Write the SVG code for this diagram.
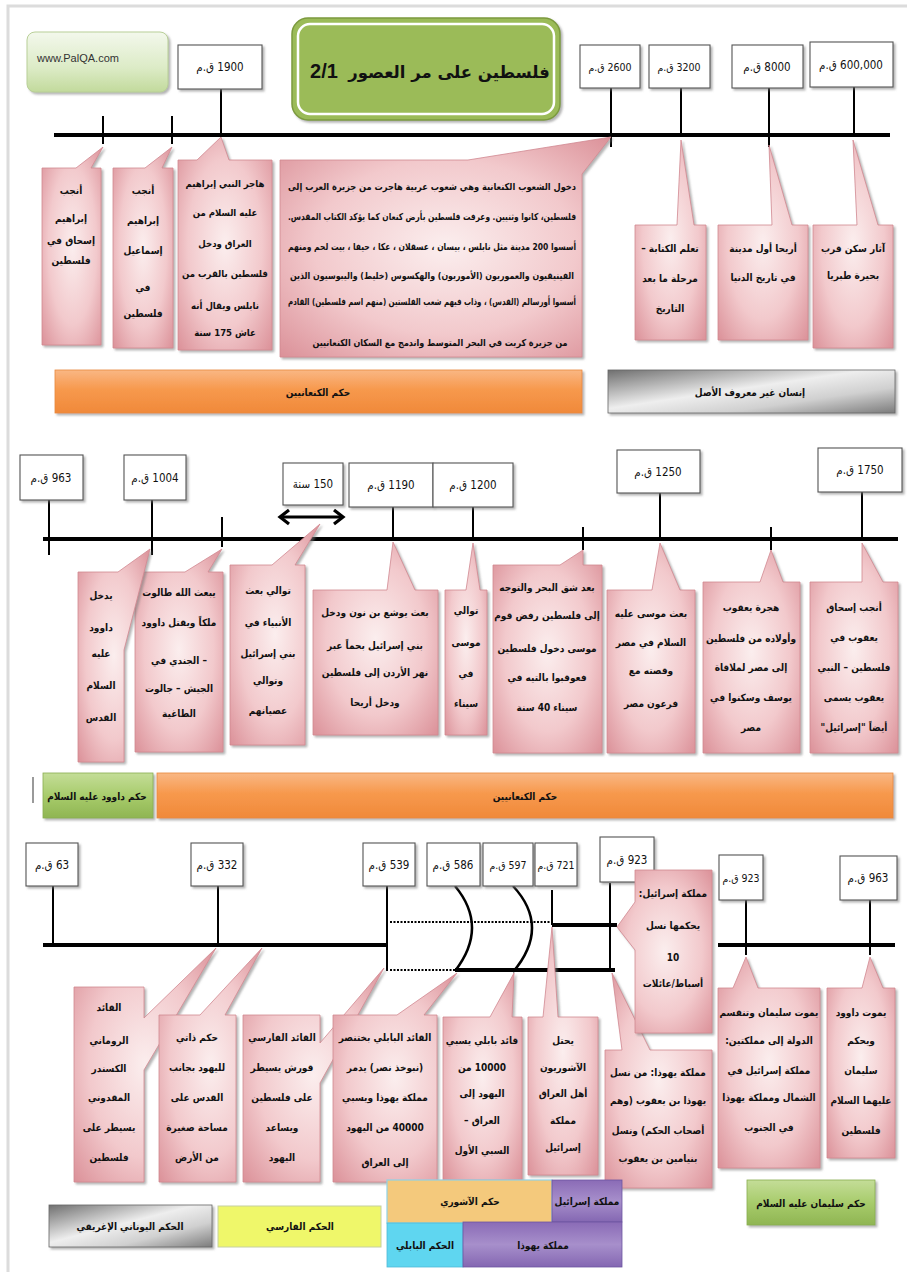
<svg xmlns="http://www.w3.org/2000/svg" width="907" height="1272" viewBox="0 0 907 1272">
<defs>
<radialGradient id="pink" cx="50%" cy="50%" r="72%">
<stop offset="0" stop-color="#fbeeee"/>
<stop offset="0.55" stop-color="#f2c9cc"/>
<stop offset="1" stop-color="#da8e96"/>
</radialGradient>
<linearGradient id="orange" x1="0" y1="0" x2="0" y2="1">
<stop offset="0" stop-color="#f9b784"/>
<stop offset="0.45" stop-color="#f7994d"/>
<stop offset="1" stop-color="#f0893a"/>
</linearGradient>
<linearGradient id="gray" x1="0" y1="0" x2="1" y2="1">
<stop offset="0" stop-color="#6f6f6f"/>
<stop offset="0.45" stop-color="#eeeeee"/>
<stop offset="0.7" stop-color="#d0d0d0"/>
<stop offset="1" stop-color="#7c7c7c"/>
</linearGradient>
<linearGradient id="green" x1="0" y1="0" x2="0" y2="1">
<stop offset="0" stop-color="#c4dd98"/>
<stop offset="0.5" stop-color="#a8cc6c"/>
<stop offset="1" stop-color="#8fb552"/>
</linearGradient>
<linearGradient id="site" x1="0" y1="0" x2="0" y2="1">
<stop offset="0" stop-color="#f3f8ec"/>
<stop offset="0.6" stop-color="#dcebc6"/>
<stop offset="1" stop-color="#c2da9c"/>
</linearGradient>
<linearGradient id="purple" x1="0" y1="0" x2="0" y2="1">
<stop offset="0" stop-color="#8a6bb6"/>
<stop offset="0.5" stop-color="#a78fcb"/>
<stop offset="1" stop-color="#8467b2"/>
</linearGradient>
<filter id="sh" x="-15%" y="-15%" width="135%" height="135%">
<feDropShadow dx="2" dy="2" stdDeviation="1.3" flood-color="#777" flood-opacity="0.55"/>
</filter>
</defs>
<style>
.call{fill:url(#pink);stroke:#d08890;stroke-width:0.8;filter:url(#sh)}
.box{fill:#fff;stroke:#555;stroke-width:1.1;filter:url(#sh)}
.ct{font-family:"DejaVu Sans Condensed","DejaVu Sans",sans-serif;font-weight:bold;font-size:10px;fill:#111;text-anchor:middle;direction:rtl}
.sm{font-size:9.5px}
.dt{font-family:"DejaVu Sans Condensed","DejaVu Sans",sans-serif;font-size:11.5px;fill:#111;text-anchor:middle;direction:rtl}
.ds{font-size:10.5px}
.bt{font-family:"DejaVu Sans Condensed","DejaVu Sans",sans-serif;font-weight:bold;font-size:10px;fill:#111;text-anchor:middle;direction:rtl}
.tl{stroke:#000;stroke-width:4;fill:none}
.st{stroke:#000;stroke-width:2;fill:none}
.dot{stroke:#000;stroke-width:2.2;stroke-dasharray:2 1.5;fill:none}
</style>
<rect x="0" y="0" width="907" height="1272" fill="#fff"/>
<path d="M8,1272 L8,6 L907,6" fill="none" stroke="#dcdcdc" stroke-width="3"/>

<g id="connectors">
<line class="tl" x1="54" y1="135" x2="890" y2="135"/>
<line class="st" x1="103" y1="116" x2="103" y2="144"/>
<line class="st" x1="172" y1="116" x2="172" y2="144"/>
<line class="st" x1="221" y1="89" x2="221" y2="137"/>
<line class="st" x1="611" y1="88" x2="611" y2="147"/>
<line class="st" x1="681" y1="88" x2="681" y2="137"/>
<line class="st" x1="769" y1="88" x2="769" y2="147"/>
<line class="st" x1="854" y1="87" x2="854" y2="137"/>

<line class="tl" x1="43" y1="539" x2="898" y2="539"/>
<line class="st" x1="49" y1="500" x2="49" y2="555"/>
<line class="st" x1="152" y1="500" x2="152" y2="555"/>
<line class="st" x1="222" y1="517" x2="222" y2="547"/>
<line class="st" x1="393" y1="507" x2="393" y2="540"/>
<line class="st" x1="473" y1="507" x2="473" y2="540"/>
<line class="st" x1="583" y1="527" x2="583" y2="550"/>
<line class="st" x1="660" y1="493" x2="660" y2="540"/>
<line class="st" x1="771" y1="527" x2="771" y2="550"/>
<line class="st" x1="862" y1="492" x2="862" y2="540"/>
<line x1="281" y1="517" x2="342" y2="517" stroke="#000" stroke-width="3"/>
<polyline points="289,510 280,517 289,524" fill="none" stroke="#000" stroke-width="3.2"/>
<polyline points="334,510 343,517 334,524" fill="none" stroke="#000" stroke-width="3.2"/>

<line class="tl" x1="43" y1="945" x2="387" y2="945"/>
<line class="st" x1="53" y1="886" x2="53" y2="945"/>
<line class="st" x1="218" y1="886" x2="218" y2="945"/>
<line class="st" x1="387" y1="886" x2="387" y2="971" stroke-width="2.5"/>
<line class="dot" x1="390" y1="922" x2="552" y2="922"/>
<line class="dot" x1="390" y1="970" x2="455" y2="970"/>
<line class="tl" x1="455" y1="970" x2="615" y2="970" stroke-width="3.5"/>
<line class="tl" x1="552" y1="925" x2="617" y2="925" stroke-width="3.5"/>
<line class="st" x1="552" y1="890" x2="552" y2="925"/>
<line class="st" x1="610" y1="883" x2="610" y2="970"/>
<path d="M455,886 Q489,927 455,971" fill="none" stroke="#000" stroke-width="2.5"/>
<path d="M513,886 Q551,927 513,972" fill="none" stroke="#000" stroke-width="2.5"/>
<line class="tl" x1="718" y1="945" x2="895" y2="945"/>
<line class="st" x1="746" y1="900" x2="746" y2="955"/>
<line class="st" x1="870" y1="900" x2="870" y2="955"/>
</g>

<g id="title">
<rect x="292" y="18" width="268" height="102" rx="16" fill="#9bbb59" stroke="#7c9a3e" stroke-width="1.5" filter="url(#sh)"/>
<rect x="298" y="24" width="256" height="90" rx="12" fill="none" stroke="#fff" stroke-width="2.5"/>
<text x="449" y="78" font-family="DejaVu Sans, sans-serif" font-weight="bold" font-size="16.5" fill="#111" text-anchor="middle" direction="rtl">فلسطين على مر العصور</text>
<text x="324" y="78" font-family="Liberation Sans, sans-serif" font-weight="bold" font-size="20" fill="#111" text-anchor="middle">2/1</text>
</g>
<g id="site">
<rect x="27" y="32" width="141" height="60" rx="8" fill="url(#site)" stroke="#b8cf97" stroke-width="1" filter="url(#sh)"/>
<text x="37" y="62" font-family="Liberation Sans, sans-serif" font-size="11" fill="#333">www.PalQA.com</text>
</g>

<g id="date-1900"><rect class="box" x="178" y="45" width="84" height="44"/><text class="dt" x="220" y="71">1900 ق.م</text></g>
<g id="date-2600"><rect class="box" x="580" y="45" width="60" height="43"/><text class="dt ds" x="610" y="71">2600 ق.م</text></g>
<g id="date-3200"><rect class="box" x="649" y="45" width="61" height="43"/><text class="dt ds" x="679" y="71">3200 ق.م</text></g>
<g id="date-8000"><rect class="box" x="732" y="45" width="71" height="43"/><text class="dt" x="767" y="71">8000 ق.م</text></g>
<g id="date-600000"><rect class="box" x="810" y="42" width="83" height="45"/><text class="dt" x="851" y="69">600,000 ق.م</text></g>

<g id="n-ishaq"><path class="call" d="M42,168 L76,168 L103,147 L91,168 L101,168 L101,345 L42,345 Z"/>
<text class="ct"><tspan x="71" y="194">أنجب</tspan><tspan x="71" y="222">إبراهيم</tspan><tspan x="71" y="244">إسحاق في</tspan><tspan x="71" y="264">فلسطين</tspan></text></g>
<g id="n-ismail"><path class="call" d="M113,168 L145,168 L172,147 L162,168 L173,168 L173,348 L113,348 Z"/>
<text class="ct"><tspan x="143" y="194">أنجب</tspan><tspan x="143" y="224">إبراهيم</tspan><tspan x="143" y="254">إسماعيل</tspan><tspan x="143" y="291">في</tspan><tspan x="143" y="317">فلسطين</tspan></text></g>
<g id="n-ibrahim"><path class="call" d="M178,160 L197,160 L221,137 L229,160 L272,160 L272,350 L178,350 Z"/>
<text class="ct sm"><tspan x="225" y="187">هاجر النبي إبراهيم</tspan><tspan x="225" y="216">عليه السلام من</tspan><tspan x="225" y="247">العراق ودخل</tspan><tspan x="225" y="277">فلسطين بالقرب من</tspan><tspan x="225" y="309">نابلس ويقال أنه</tspan><tspan x="225" y="336">عاش 175 سنة</tspan></text></g>
<g id="n-canaan"><path class="call" d="M280,160 L468,160 L611,137 L582,174 L582,357 L280,357 Z"/>
<text class="ct sm" x="432" y="190" textLength="288" lengthAdjust="spacingAndGlyphs">دخول الشعوب الكنعانية وهي شعوب عربية هاجرت من جزيرة العرب إلى</text>
<text class="ct sm" x="432" y="220" textLength="288" lengthAdjust="spacingAndGlyphs">فلسطين، كانوا وثنيين. وعرفت فلسطين بأرض كنعان كما يؤكد الكتاب المقدس.</text>
<text class="ct sm" x="432" y="250" textLength="288" lengthAdjust="spacingAndGlyphs">أسسوا 200 مدينة مثل نابلس ، بيسان ، عسقلان ، عكا ، حيفا ، بيت لحم ومنهم</text>
<text class="ct sm" x="432" y="279" textLength="284" lengthAdjust="spacingAndGlyphs">الفينيقيون والعموريون (الأموريون) والهكسوس (خليط) واليبوسيون الذين</text>
<text class="ct sm" x="432" y="305" textLength="288" lengthAdjust="spacingAndGlyphs">أسسوا أورسالم (القدس) ، وذاب فيهم شعب الفلستين (منهم اسم فلسطين) القادم</text>
<text class="ct sm" x="440" y="346" textLength="255" lengthAdjust="spacingAndGlyphs">من جزيرة كريت في البحر المتوسط واندمج مع السكان الكنعانيين</text></g>
<g id="n-writing"><path class="call" d="M635,225 L677,225 L681,140 L694,225 L706,225 L706,340 L635,340 Z"/>
<text class="ct"><tspan x="670" y="252">تعلم الكتابة –</tspan><tspan x="670" y="282">مرحلة ما بعد</tspan><tspan x="670" y="312">التاريخ</tspan></text></g>
<g id="n-jericho"><path class="call" d="M718,225 L772,225 L769,145 L792,225 L808,225 L808,340 L718,340 Z"/>
<text class="ct"><tspan x="763" y="252">أريحا أول مدينة</tspan><tspan x="763" y="281">في تاريخ الدنيا</tspan></text></g>
<g id="n-tiberias"><path class="call" d="M813,225 L857,225 L853,140 L878,225 L893,225 L893,348 L813,348 Z"/>
<text class="ct"><tspan x="853" y="252">آثار سكن قرب</tspan><tspan x="853" y="279">بحيرة طبريا</tspan></text></g>

<g id="bar-canaan1"><rect x="55" y="370" width="527" height="43" fill="url(#orange)" stroke="#e8893c" stroke-width="0.8" filter="url(#sh)"/><text class="bt" x="318" y="396">حكم الكنعانيين</text></g>
<g id="bar-unknown"><rect x="608" y="370" width="287" height="43" fill="url(#gray)" stroke="#666" stroke-width="0.8" filter="url(#sh)"/><text class="bt" x="750" y="396">إنسان غير معروف الأصل</text></g>

<g id="date-963a"><rect class="box" x="20" y="455" width="63" height="45"/><text class="dt" x="51" y="482">963 ق.م</text></g>
<g id="date-1004"><rect class="box" x="124" y="455" width="62" height="45"/><text class="dt" x="155" y="482">1004 ق.م</text></g>
<g id="dur-150"><rect class="box" x="283" y="463" width="60" height="42"/><text class="dt" x="313" y="488">150 سنة</text></g>
<g id="date-1190"><rect class="box" x="349" y="463" width="84" height="44"/><text class="dt" x="391" y="489">1190 ق.م</text></g>
<g id="date-1200"><rect class="box" x="433" y="463" width="80" height="44"/><text class="dt" x="473" y="489">1200 ق.م</text></g>
<g id="date-1250"><rect class="box" x="617" y="450" width="83" height="43"/><text class="dt" x="658" y="476">1250 ق.م</text></g>
<g id="date-1750"><rect class="box" x="818" y="448" width="84" height="44"/><text class="dt" x="860" y="474">1750 ق.م</text></g>

<g id="n-talut"><path class="call" d="M135,572 L185,572 L222,549 L208,572 L223,572 L223,752 L135,752 Z"/>
<text class="ct"><tspan x="179" y="596">يبعث الله طالوت</tspan><tspan x="179" y="626">ملكاً ويقتل داوود</tspan><tspan x="179" y="664">– الجندي في</tspan><tspan x="179" y="692">الجيش – جالوت</tspan><tspan x="179" y="717">الطاغية</tspan></text></g>
<g id="n-dawud"><path class="call" d="M78,572 L118,572 L150,549 L124,650 L124,762 L78,762 Z"/>
<text class="ct"><tspan x="101" y="599">يدخل</tspan><tspan x="101" y="631">داوود</tspan><tspan x="101" y="657">عليه</tspan><tspan x="101" y="689">السلام</tspan><tspan x="101" y="721">القدس</tspan></text></g>
<g id="n-prophets"><path class="call" d="M230,565 L272,565 L320,524 L295,565 L305,565 L305,745 L230,745 Z"/>
<text class="ct"><tspan x="268" y="594">توالي بعث</tspan><tspan x="268" y="626">الأنبياء في</tspan><tspan x="268" y="657">بني إسرائيل</tspan><tspan x="268" y="684">وتوالي</tspan><tspan x="268" y="714">عصيانهم</tspan></text></g>
<g id="n-yusha"><path class="call" d="M313,590 L387,590 L393,542 L415,590 L438,590 L438,735 L313,735 Z"/>
<text class="ct"><tspan x="375" y="616">بعث يوشع بن نون ودخل</tspan><tspan x="375" y="649">بني إسرائيل بحماً عبر</tspan><tspan x="375" y="676">نهر الأردن إلى فلسطين</tspan><tspan x="375" y="706">ودخل أريحا</tspan></text></g>
<g id="n-musa-sinai"><path class="call" d="M445,590 L466,590 L473,543 L480,590 L487,590 L487,735 L445,735 Z"/>
<text class="ct"><tspan x="466" y="614">توالي</tspan><tspan x="466" y="646">موسى</tspan><tspan x="466" y="677">في</tspan><tspan x="466" y="707">سيناء</tspan></text></g>
<g id="n-tih"><path class="call" d="M493,565 L560,565 L583,550 L583,565 L602,565 L602,753 L493,753 Z"/>
<text class="ct"><tspan x="547" y="591">بعد شق البحر والتوجه</tspan><tspan x="547" y="619">إلى فلسطين رفض قوم</tspan><tspan x="547" y="652">موسى دخول فلسطين</tspan><tspan x="547" y="681">فعوقبوا بالتيه في</tspan><tspan x="547" y="711">سيناء 40 سنة</tspan></text></g>
<g id="n-musa"><path class="call" d="M607,590 L652,590 L660,543 L680,590 L695,590 L695,753 L607,753 Z"/>
<text class="ct"><tspan x="651" y="617">بعث موسى عليه</tspan><tspan x="651" y="646">السلام في مصر</tspan><tspan x="651" y="674">وقصته مع</tspan><tspan x="651" y="707">فرعون مصر</tspan></text></g>
<g id="n-yaqub-egypt"><path class="call" d="M703,582 L760,582 L771,550 L783,582 L800,582 L800,753 L703,753 Z"/>
<text class="ct"><tspan x="751" y="611">هجرة يعقوب</tspan><tspan x="751" y="642">وأولاده من فلسطين</tspan><tspan x="751" y="671">إلى مصر لملاقاة</tspan><tspan x="751" y="701">يوسف وسكنوا في</tspan><tspan x="751" y="731">مصر</tspan></text></g>
<g id="n-yaqub"><path class="call" d="M810,582 L862,582 L862,543 L883,582 L898,582 L898,753 L810,753 Z"/>
<text class="ct"><tspan x="854" y="611">أنجب إسحاق</tspan><tspan x="854" y="641">يعقوب في</tspan><tspan x="854" y="671">فلسطين – النبي</tspan><tspan x="854" y="701">يعقوب يسمى</tspan><tspan x="854" y="731">أيضاً "إسرائيل"</tspan></text></g>

<line x1="33" y1="777" x2="33" y2="803" stroke="#9a9a9a" stroke-width="2"/>
<g id="bar-dawud"><rect x="43" y="773" width="110" height="45" fill="url(#green)" stroke="#8aae50" stroke-width="0.8" filter="url(#sh)"/><text class="bt" x="97" y="800">حكم داوود عليه السلام</text></g>
<g id="bar-canaan2"><rect x="157" y="773" width="736" height="45" fill="url(#orange)" stroke="#e8893c" stroke-width="0.8" filter="url(#sh)"/><text class="bt" x="525" y="800">حكم الكنعانيين</text></g>

<g id="date-63"><rect class="box" x="26" y="843" width="52" height="43"/><text class="dt" x="52" y="869">63 ق.م</text></g>
<g id="date-332"><rect class="box" x="191" y="843" width="52" height="43"/><text class="dt" x="217" y="869">332 ق.م</text></g>
<g id="date-539"><rect class="box" x="363" y="843" width="52" height="43"/><text class="dt" x="389" y="869">539 ق.م</text></g>
<g id="date-586"><rect class="box" x="427" y="843" width="53" height="43"/><text class="dt" x="453" y="869">586 ق.م</text></g>
<g id="date-597"><rect class="box" x="483" y="843" width="50" height="43"/><text class="dt ds" x="508" y="869">597 ق.م</text></g>
<g id="date-721"><rect class="box" x="535" y="843" width="42" height="43"/><text class="dt ds" x="556" y="869">721 ق.م</text></g>
<g id="date-923a"><rect class="box" x="600" y="837" width="54" height="45"/><text class="dt" x="627" y="864">923 ق.م</text></g>
<g id="date-923b"><rect class="box" x="719" y="855" width="44" height="45"/><text class="dt ds" x="741" y="882">923 ق.م</text></g>
<g id="date-963b"><rect class="box" x="840" y="856" width="57" height="44"/><text class="dt" x="868" y="882">963 ق.م</text></g>

<g id="n-roman"><path class="call" d="M74,987 L144,987 L144,1018 L216,948 L144,1070 L144,1182 L74,1182 Z"/>
<text class="ct"><tspan x="109" y="1011">القائد</tspan><tspan x="109" y="1044">الروماني</tspan><tspan x="109" y="1072">الكسندر</tspan><tspan x="109" y="1101">المقدوني</tspan><tspan x="109" y="1131">يسيطر على</tspan><tspan x="109" y="1161">فلسطين</tspan></text></g>
<g id="n-autonomy"><path class="call" d="M159,1015 L200,1015 L262,948 L225,1015 L236,1015 L236,1182 L159,1182 Z"/>
<text class="ct"><tspan x="197" y="1041">حكم ذاتي</tspan><tspan x="197" y="1071">لليهود بجانب</tspan><tspan x="197" y="1101">القدس على</tspan><tspan x="197" y="1131">مساحة صغيرة</tspan><tspan x="197" y="1161">من الأرض</tspan></text></g>
<g id="n-persian"><path class="call" d="M243,1015 L320,1015 L320,1043 L384,968 L320,1083 L320,1182 L243,1182 Z"/>
<text class="ct"><tspan x="282" y="1041">القائد الفارسي</tspan><tspan x="282" y="1071">قورش يسيطر</tspan><tspan x="282" y="1101">على فلسطين</tspan><tspan x="282" y="1131">ويساعد</tspan><tspan x="282" y="1161">اليهود</tspan></text></g>
<g id="n-nebuchadnezzar"><path class="call" d="M333,1015 L397,1015 L457,973 L424,1015 L437,1015 L437,1182 L333,1182 Z"/>
<text class="ct"><tspan x="385" y="1041">القائد البابلي بختنصر</tspan><tspan x="385" y="1071">(نبوخذ نصر) يدمر</tspan><tspan x="385" y="1101">مملكة يهوذا ويسبي</tspan><tspan x="385" y="1131">40000 من اليهود</tspan><tspan x="385" y="1166">إلى العراق</tspan></text></g>
<g id="n-first-exile"><path class="call" d="M443,1017 L490,1017 L514,973 L512,1017 L522,1017 L522,1180 L443,1180 Z"/>
<text class="ct"><tspan x="482" y="1044">قائد بابلي يسبي</tspan><tspan x="482" y="1071">10000 من</tspan><tspan x="482" y="1097">اليهود إلى</tspan><tspan x="482" y="1124">العراق –</tspan><tspan x="482" y="1154">السبي الأول</tspan></text></g>
<g id="n-assyrians"><path class="call" d="M528,1017 L543,1017 L552,927 L558,1017 L598,1017 L598,1175 L528,1175 Z"/>
<text class="ct"><tspan x="563" y="1044">يحتل</tspan><tspan x="563" y="1071">الآشوريون</tspan><tspan x="563" y="1097">أهل العراق</tspan><tspan x="563" y="1124">مملكة</tspan><tspan x="563" y="1151">إسرائيل</tspan></text></g>
<g id="n-judah"><path class="call" d="M605,1050 L622,1050 L612,973 L650,1050 L712,1050 L712,1188 L605,1188 Z"/>
<text class="ct"><tspan x="658" y="1076">مملكة يهوذا: من نسل</tspan><tspan x="658" y="1104">يهوذا بن يعقوب (وهم</tspan><tspan x="658" y="1134">أصحاب الحكم) ونسل</tspan><tspan x="658" y="1162">بنيامين بن يعقوب</tspan></text></g>
<g id="n-israel"><path class="call" d="M635,870 L712,870 L712,1033 L635,1033 L635,950 L617,927 L635,902 Z"/>
<text class="ct"><tspan x="673" y="897">مملكة إسرائيل:</tspan><tspan x="673" y="929">يحكمها نسل</tspan><tspan x="673" y="961">10</tspan><tspan x="673" y="987">أسباط/عائلات</tspan></text></g>
<g id="n-split"><path class="call" d="M718,988 L733,988 L746,957 L758,988 L820,988 L820,1168 L718,1168 Z"/>
<text class="ct"><tspan x="769" y="1016">يموت سليمان وتنقسم</tspan><tspan x="769" y="1044">الدولة إلى مملكتين:</tspan><tspan x="769" y="1074">مملكة إسرائيل في</tspan><tspan x="769" y="1101">الشمال ومملكة يهوذا</tspan><tspan x="769" y="1131">في الجنوب</tspan></text></g>
<g id="n-sulayman"><path class="call" d="M827,988 L862,988 L870,957 L883,988 L895,988 L895,1158 L827,1158 Z"/>
<text class="ct"><tspan x="861" y="1016">يموت داوود</tspan><tspan x="861" y="1044">ويحكم</tspan><tspan x="861" y="1074">سليمان</tspan><tspan x="861" y="1104">عليهما السلام</tspan><tspan x="861" y="1134">فلسطين</tspan></text></g>

<g id="bar-greek"><rect x="49" y="1205" width="163" height="42" fill="url(#gray)" stroke="#666" stroke-width="0.8" filter="url(#sh)"/><text class="bt" x="130" y="1230">الحكم اليوناني الإغريقي</text></g>
<g id="bar-persian"><rect x="218" y="1206" width="163" height="41" fill="#eff76a" stroke="#c6d0a0" stroke-width="1"/><text class="bt" x="300" y="1230">الحكم الفارسي</text></g>
<g id="bar-assyrian"><rect x="387" y="1180" width="165" height="43" fill="#f4c97c" stroke="#8fd3e6" stroke-width="1.2"/><text class="bt" x="470" y="1205">حكم الآشوري</text></g>
<g id="bar-israel"><rect x="552" y="1180" width="70" height="42" fill="url(#purple)" stroke="#6d55a0" stroke-width="0.8"/><text class="bt" x="587" y="1205">مملكة إسرائيل</text></g>
<g id="bar-babylon"><rect x="387" y="1223" width="76" height="44" fill="#5fd6f0" stroke="#4fb9d6" stroke-width="0.8"/><text class="bt" x="425" y="1249">الحكم البابلي</text></g>
<g id="bar-judah"><rect x="463" y="1222" width="159" height="45" fill="url(#purple)" stroke="#6d55a0" stroke-width="0.8"/><text class="bt" x="543" y="1249">مملكة يهوذا</text></g>
<g id="bar-sulayman"><rect x="747" y="1180" width="128" height="45" fill="url(#green)" stroke="#8aae50" stroke-width="0.8" filter="url(#sh)"/><text class="bt" x="811" y="1207">حكم سليمان عليه السلام</text></g>
</svg>
